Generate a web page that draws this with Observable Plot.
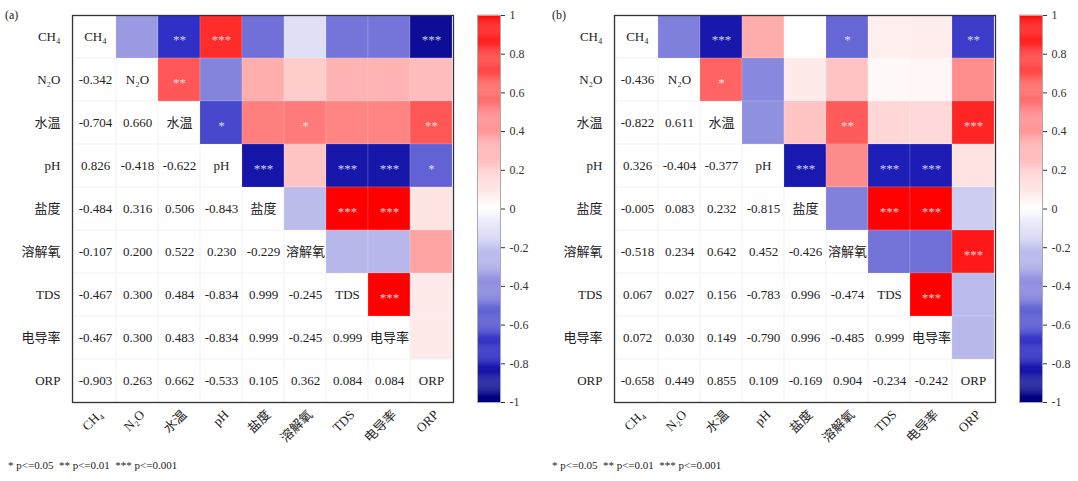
<!DOCTYPE html>
<html>
<head>
<meta charset="utf-8">
<script src="https://cdn.jsdelivr.net/npm/d3@7"></script>
<script src="https://cdn.jsdelivr.net/npm/@observablehq/plot@0.6"></script>
<style>
  body { margin: 0; background: #fff; }
  #root { position: relative; width: 1078px; height: 481px; background: #fff; overflow: hidden;
          font-family: 'Liberation Serif', 'Noto Sans CJK SC', serif; color: #222; }
  .abs { position: absolute; }
  .tag { font-size: 12px; }
  .note { font-size: 11px; white-space: pre; }
</style>
</head>
<body>
<div id="root"></div>
<script>
// ---------- data ----------
const vars = ["CH₄", "N₂O", "水温", "pH", "盐度", "溶解氧", "TDS", "电导率", "ORP"];

// lower-triangle correlation rows (row i has i values, columns 0..i-1)
const corrA = [
  [],
  [-0.342],
  [-0.704, 0.660],
  [0.826, -0.418, -0.622],
  [-0.484, 0.316, 0.506, -0.843],
  [-0.107, 0.200, 0.522, 0.230, -0.229],
  [-0.467, 0.300, 0.484, -0.834, 0.999, -0.245],
  [-0.467, 0.300, 0.483, -0.834, 0.999, -0.245, 0.999],
  [-0.903, 0.263, 0.662, -0.533, 0.105, 0.362, 0.084, 0.084]
];
const corrB = [
  [],
  [-0.436],
  [-0.822, 0.611],
  [0.326, -0.404, -0.377],
  [-0.005, 0.083, 0.232, -0.815],
  [-0.518, 0.234, 0.642, 0.452, -0.426],
  [0.067, 0.027, 0.156, -0.783, 0.996, -0.474],
  [0.072, 0.030, 0.149, -0.790, 0.996, -0.485, 0.999],
  [-0.658, 0.449, 0.855, 0.109, -0.169, 0.904, -0.234, -0.242]
];
// significance marks in the upper triangle: [row, col, stars]
const starsA = [
  ["CH₄", "水温", "**"], ["CH₄", "pH", "***"], ["CH₄", "ORP", "***"],
  ["N₂O", "水温", "**"],
  ["水温", "pH", "*"], ["水温", "溶解氧", "*"], ["水温", "ORP", "**"],
  ["pH", "盐度", "***"], ["pH", "TDS", "***"], ["pH", "电导率", "***"], ["pH", "ORP", "*"],
  ["盐度", "TDS", "***"], ["盐度", "电导率", "***"],
  ["TDS", "电导率", "***"]
];
const starsB = [
  ["CH₄", "水温", "***"], ["CH₄", "溶解氧", "*"], ["CH₄", "ORP", "**"],
  ["N₂O", "水温", "*"],
  ["水温", "溶解氧", "**"], ["水温", "ORP", "***"],
  ["pH", "盐度", "***"], ["pH", "TDS", "***"], ["pH", "电导率", "***"],
  ["盐度", "TDS", "***"], ["盐度", "电导率", "***"],
  ["溶解氧", "ORP", "***"],
  ["TDS", "电导率", "***"]
];
const legendTicks = [1, 0.8, 0.6, 0.4, 0.2, 0, -0.2, -0.4, -0.6, -0.8, -1];
const footnote = "* p<=0.05  ** p<=0.01  *** p<=0.001";

// ---------- styling ----------
const FONT = "'Liberation Serif', 'Noto Sans CJK SC', serif";
const colorOpts = {
  type: "linear",
  domain: [-1, -0.75, 0, 1],
  range: ["#00007a", "#2222c2", "#ffffff", "#ff0000"],
  interpolate: "rgb"
};

function heatmap(corr, stars) {
  const lower = [], upper = [];
  corr.forEach((row, i) => row.forEach((r, j) => {
    lower.push({row: vars[i], col: vars[j], r});
    upper.push({row: vars[j], col: vars[i], r});
  }));
  const starData = stars.map(([row, col, s]) => ({row, col, s}));
  return Plot.plot({
    width: 470, height: 450,
    marginLeft: 72, marginRight: 17, marginTop: 15, marginBottom: 48,
    style: {fontFamily: FONT, fontSize: "13px", background: "transparent", color: "#222"},
    x: {domain: vars, padding: 0, label: null},
    y: {domain: vars, padding: 0, label: null},
    color: colorOpts,
    marks: [
      Plot.cell(vars.flatMap(a => vars.map(b => ({a, b}))), {x: "a", y: "b", fill: "none", stroke: "#f2f2f2", strokeWidth: 0.6}),
      Plot.cell(upper, {x: "col", y: "row", fill: "r", stroke: "#ffffff", strokeOpacity: 0.25, strokeWidth: 0.6}),
      Plot.text(lower, {x: "col", y: "row", text: d => d.r.toFixed(3), fontSize: 13, fill: "#222"}),
      Plot.text(vars, {x: d => d, y: d => d, text: d => d, fontSize: 13, fill: "#222"}),
      Plot.text(starData, {x: "col", y: "row", text: "s", fill: "#ffffff", fillOpacity: 0.8, fontSize: 13, dy: 3}),
      Plot.axisX({tickSize: 0, tickRotate: -45, tickPadding: 10, dx: 5, label: null, fontSize: 13}),
      Plot.axisY({tickSize: 0, tickPadding: 12, label: null, fontSize: 13}),
      Plot.frame({stroke: "#333", strokeWidth: 1.3})
    ]
  });
}

function colorbar() {
  const step = 0.005;
  const bands = d3.range(-1, 1 - 1e-9, step);
  return Plot.plot({
    width: 80, height: 450,
    marginLeft: 7, marginRight: 50, marginTop: 15, marginBottom: 48,
    style: {fontFamily: FONT, fontSize: "12px", background: "transparent", color: "#333"},
    y: {domain: [-1, 1], ticks: legendTicks, tickFormat: d => String(+d.toFixed(1)),
        axis: "right", tickSize: 4, tickPadding: 5, label: null},
    color: colorOpts,
    marks: [
      Plot.rect(bands, {y1: d => d, y2: d => d + step + 0.001, fill: d => d + step / 2}),
      Plot.frame({stroke: "#aaa", strokeWidth: 1})
    ]
  });
}

const root = document.getElementById("root");
function place(el, left, top) {
  el.classList.add("abs");
  el.style.left = left + "px";
  el.style.top = top + "px";
  root.appendChild(el);
}
function label(text, left, top, cls) {
  const d = document.createElement("div");
  d.textContent = text;
  d.className = cls;
  place(d, left, top);
}

place(heatmap(corrA, starsA), 0, 0);
place(colorbar(), 470, 0);
place(heatmap(corrB, starsB), 542, 0);
place(colorbar(), 1012, 0);

label("(a)", 5, 8, "tag");
label("(b)", 552, 8, "tag");
label(footnote, 8, 459, "note");
label(footnote, 552, 459, "note");
</script>
</body>
</html>
